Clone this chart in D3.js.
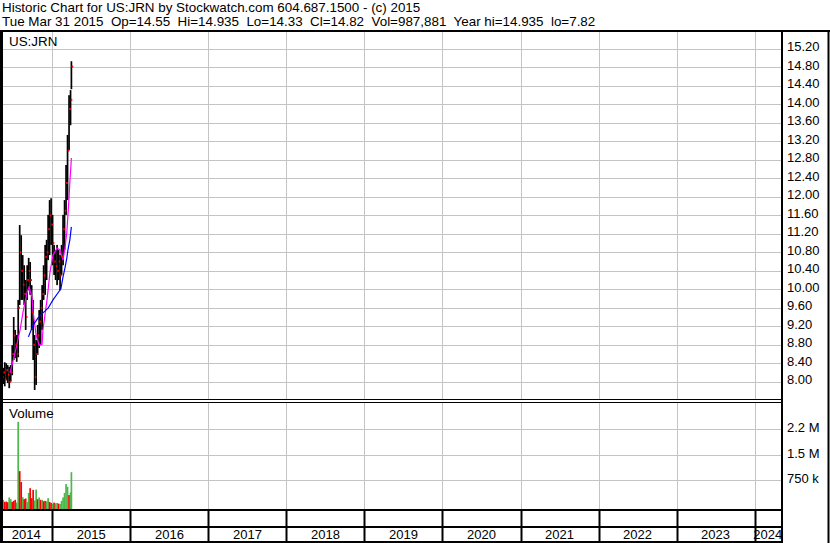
<!DOCTYPE html>
<html><head><meta charset="utf-8">
<script src="https://cdn.jsdelivr.net/npm/d3@7"></script>
<style>body{margin:0;background:#fff}svg{display:block;font-family:"Liberation Sans",Arial,sans-serif}</style>
</head><body><svg id="c" width="830" height="543"></svg>
<script>
// ---------- data ----------
const titleLine1 = "Historic Chart for US:JRN by Stockwatch.com 604.687.1500 - (c) 2015";
const titleLine2 = "Tue Mar 31 2015  Op=14.55  Hi=14.935  Lo=14.33  Cl=14.82  Vol=987,881  Year hi=14.935  lo=7.82";
const symbol = "US:JRN";

const barDates = ["2014-05-09","2014-05-16","2014-05-23","2014-05-30","2014-06-06","2014-06-13","2014-06-20","2014-06-27",
  "2014-07-04","2014-07-11","2014-07-18","2014-07-25","2014-08-01","2014-08-08","2014-08-15","2014-08-22","2014-08-29",
  "2014-09-05","2014-09-12","2014-09-19","2014-09-26","2014-10-03","2014-10-10","2014-10-17","2014-10-24","2014-10-31",
  "2014-11-07","2014-11-14","2014-11-21","2014-11-28","2014-12-05","2014-12-12","2014-12-19","2014-12-26",
  "2015-01-02","2015-01-09","2015-01-16","2015-01-23","2015-01-30","2015-02-06","2015-02-13","2015-02-20","2015-02-27",
  "2015-03-06","2015-03-13","2015-03-20","2015-03-27","2015-03-31"];
const barHigh = [8.36,8.30,8.42,8.40,8.36,8.32,8.36,8.79,9.40,9.12,9.01,9.77,11.39,11.17,10.74,10.52,10.20,
  10.52,10.68,10.59,10.09,9.77,9.01,8.90,9.23,9.55,9.77,10.09,10.52,10.96,11.07,11.61,11.93,11.97,
  11.61,10.96,10.85,10.96,10.85,10.74,10.96,11.61,11.93,12.69,13.34,14.20,14.31,14.935];
const barLow = [7.93,7.95,7.90,8.03,7.97,7.86,8.00,8.14,8.47,8.51,8.43,8.53,9.66,9.77,9.77,9.66,9.12,
  9.77,9.98,9.88,9.12,8.47,7.82,7.93,8.58,8.73,8.79,9.12,9.77,9.88,10.20,10.63,10.74,10.96,
  10.52,10.31,10.20,10.09,10.20,9.98,10.31,10.52,10.85,11.61,11.93,13.01,13.55,14.33];
const barClose = [8.10,8.20,8.05,8.25,8.15,8.00,8.20,8.60,9.00,8.80,8.60,9.60,10.80,10.40,10.10,9.90,9.40,
  10.20,10.40,10.20,9.50,8.80,8.10,8.60,9.00,9.30,9.60,9.90,10.30,10.70,10.80,11.30,11.60,11.40,
  11.00,10.60,10.50,10.40,10.60,10.30,10.70,11.30,11.70,12.30,13.00,13.90,14.10,14.82];
const volumes = [220000,180000,120000,130000,110000,250000,200000,120000,150000,180000,100000,2460000,1020000,700000,260000,200000,220000,
  120000,380000,520000,230000,470000,160000,480000,200000,250000,180000,180000,140000,150000,140000,230000,120000,90000,
  60000,100000,80000,90000,70000,60000,150000,250000,380000,640000,560000,320000,400000,988000];
const volumeUp = [0,1,0,0,0,1,1,0,0,0,1,1,0,0,1,0,0,1,1,0,0,0,1,1,0,1,0,1,0,0,1,1,0,0,
  1,0,1,1,0,1,1,1,1,1,1,0,1,1];

const maFastDates = ["2014-06-17","2014-07-10","2014-08-03","2014-08-17","2014-09-05","2014-09-14","2014-09-28","2014-10-03",
  "2014-10-17","2014-10-31","2014-11-14","2014-11-18","2014-12-07","2014-12-12","2014-12-21","2015-01-04","2015-01-23",
  "2015-02-06","2015-02-15","2015-02-20","2015-03-01","2015-03-10","2015-03-15","2015-03-20","2015-03-24","2015-03-29","2015-03-31"];
const maFastValues = [8.19,8.62,9.12,9.51,9.94,10.05,9.83,9.51,9.01,8.79,8.81,9.12,9.77,9.98,10.37,10.74,10.89,
  10.85,10.70,10.63,10.89,11.24,11.61,11.97,12.32,12.67,12.84];
const maSlowDates = ["2014-09-11","2014-10-04","2014-10-26","2014-11-18","2014-12-12","2015-01-04","2015-01-27",
  "2015-02-10","2015-02-20","2015-03-01","2015-03-10","2015-03-15","2015-03-24","2015-03-31"];
const maSlowValues = [8.97,9.23,9.38,9.49,9.59,9.77,9.92,10.01,10.27,10.46,10.68,10.85,11.07,11.35];

const priceTicks = [8.00,8.40,8.80,9.20,9.60,10.00,10.40,10.80,11.20,11.60,12.00,12.40,12.80,13.20,13.60,14.00,14.40,14.80,15.20];
const volTicks = [750000,1500000,2250000];
const volTickLabels = ["750 k","1.5 M","2.2 M"];
const yearBoundaries = [2015,2016,2017,2018,2019,2020,2021,2022,2023,2024];
const yearLabels = [2014,2015,2016,2017,2018,2019,2020,2021,2022,2023,2024];

// ---------- layout ----------
const W = 830, H = 543;
const plotR = 781;
const priceTop = 32, priceBot = 399;
const volTop = 403, volBot = 509;
const parse = d3.utcParse("%Y-%m-%d");
const xStart = new Date(Date.UTC(2014,4,1)), xEnd = new Date(Date.UTC(2024,4,4));

const x = d3.scaleUtc().domain([xStart, xEnd]).range([0, plotR]);
const y = d3.scaleLinear().domain([8.0, 15.2]).range([381.7, 49]);
const yv = d3.scaleLinear().domain([0, 2250000]).range([506, 429]);

const svg = d3.select("#c");
const grid = "#c4c4c4";
svg.append("rect").attr("width", W).attr("height", H).attr("fill", "#fff");

const defs = svg.append("defs");
defs.append("clipPath").attr("id","cp").append("rect").attr("x",3).attr("y",priceTop).attr("width",plotR-3).attr("height",priceBot-priceTop);
defs.append("clipPath").attr("id","cv").append("rect").attr("x",3).attr("y",volTop).attr("width",plotR-3).attr("height",volBot-volTop);

// price horizontal grid
svg.append("g").selectAll("line").data(priceTicks).join("line")
  .attr("x1", 3).attr("x2", plotR).attr("y1", d => Math.round(y(d)) + 0.5).attr("y2", d => Math.round(y(d)) + 0.5)
  .attr("stroke", grid);
// volume horizontal grid
svg.append("g").selectAll("line").data(volTicks).join("line")
  .attr("x1", 3).attr("x2", plotR).attr("y1", d => Math.round(yv(d)) + 0.5).attr("y2", d => Math.round(yv(d)) + 0.5)
  .attr("stroke", grid);
// vertical year grid
const yx = yr => Math.round(x(new Date(Date.UTC(yr,0,1)))) + 0.5;
svg.append("g").selectAll("line").data(yearBoundaries).join("line")
  .attr("x1", yx).attr("x2", yx).attr("y1", priceTop).attr("y2", priceBot).attr("stroke", grid);
svg.append("g").selectAll("line").data(yearBoundaries).join("line")
  .attr("x1", yx).attr("x2", yx).attr("y1", volTop).attr("y2", volBot).attr("stroke", grid);

// price bars
const bars = barDates.map((d,i) => ({date: parse(d), hi: barHigh[i], lo: barLow[i], cl: barClose[i], vol: volumes[i], up: volumeUp[i]}));
const pg = svg.append("g").attr("clip-path","url(#cp)");
pg.selectAll("rect.bar").data(bars).join("rect").attr("class","bar")
  .attr("x", d => x(d.date) - 0.8).attr("width", 1.7)
  .attr("y", d => y(d.hi)).attr("height", d => y(d.lo) - y(d.hi)).attr("fill", "#000");

// moving averages
const line = d3.line().x(d => x(d[0])).y(d => y(d[1]));
pg.append("path").datum(maFastDates.map((d,i) => [parse(d), maFastValues[i]]))
  .attr("d", line).attr("fill","none").attr("stroke","#ff00ff").attr("stroke-width",1.2);
pg.append("path").datum(maSlowDates.map((d,i) => [parse(d), maSlowValues[i]]))
  .attr("d", line).attr("fill","none").attr("stroke","#0000ff").attr("stroke-width",1.2);

// close ticks (red)
pg.selectAll("rect.cl").data(bars).join("rect").attr("class","cl")
  .attr("x", d => x(d.date) + 0.2).attr("width", 1.6)
  .attr("y", d => y(d.cl) - 1).attr("height", 2).attr("fill", "#ff0000");

// volume bars
const vg = svg.append("g").attr("clip-path","url(#cv)");
vg.selectAll("rect").data(bars).join("rect")
  .attr("x", d => x(d.date) - 0.8).attr("width", 1.7)
  .attr("y", d => yv(d.vol)).attr("height", d => volBot - yv(d.vol))
  .attr("fill", d => d.up ? "#4cb84c" : "#ff0000");

// frame lines
const blk = (x1,y1,x2,y2,w) => svg.append("line").attr("x1",x1).attr("y1",y1).attr("x2",x2).attr("y2",y2).attr("stroke","#000").attr("stroke-width",w);
blk(0, 31, W, 31, 2);               // top
blk(1.5, 30, 1.5, H, 3);            // left
blk(plotR + 1, 30, plotR + 1, H, 2); // plot right
blk(W - 1.5, 30, W - 1.5, H, 2);    // outer right
blk(0, 399.5, plotR, 399.5, 1);     // double separator
blk(0, 402.5, plotR, 402.5, 1);
blk(0, 510, plotR, 510, 2);
blk(0, 527, plotR, 527, 2);
blk(0, 542, plotR, 542, 2);
svg.append("g").selectAll("line").data(yearBoundaries).join("line")
  .attr("x1", d => yx(d)).attr("x2", d => yx(d)).attr("y1", 510).attr("y2", 542)
  .attr("stroke", "#000").attr("stroke-width", 2);

// texts
svg.append("text").attr("x", 2).attr("y", 12).attr("font-size", 13.4).text(titleLine1);
svg.append("text").attr("x", 2).attr("y", 26).attr("font-size", 13.4)
  .attr("xml:space","preserve").style("white-space","pre").text(titleLine2);
svg.append("text").attr("x", 9).attr("y", 46).attr("font-size", 13.4).text(symbol);
svg.append("text").attr("x", 9).attr("y", 418).attr("font-size", 13.4).text("Volume");

svg.append("g").selectAll("text").data(priceTicks).join("text")
  .attr("x", 787).attr("y", d => y(d) - 1).attr("font-size", 13).attr("dominant-baseline","middle")
  .text(d => d.toFixed(2));
svg.append("g").selectAll("text").data(volTicks).join("text")
  .attr("x", 787).attr("y", d => yv(d) - 0.5).attr("font-size", 13).attr("dominant-baseline","middle")
  .text((d,i) => volTickLabels[i]);

const bounds = [xStart, ...yearBoundaries.map(yr => new Date(Date.UTC(yr,0,1))), xEnd];
svg.append("g").selectAll("text").data(yearLabels).join("text")
  .attr("x", (d,i) => (x(bounds[i]) + x(bounds[i+1])) / 2).attr("y", 539)
  .attr("font-size", 13).attr("text-anchor","middle").text(d => d);
</script></body></html>
